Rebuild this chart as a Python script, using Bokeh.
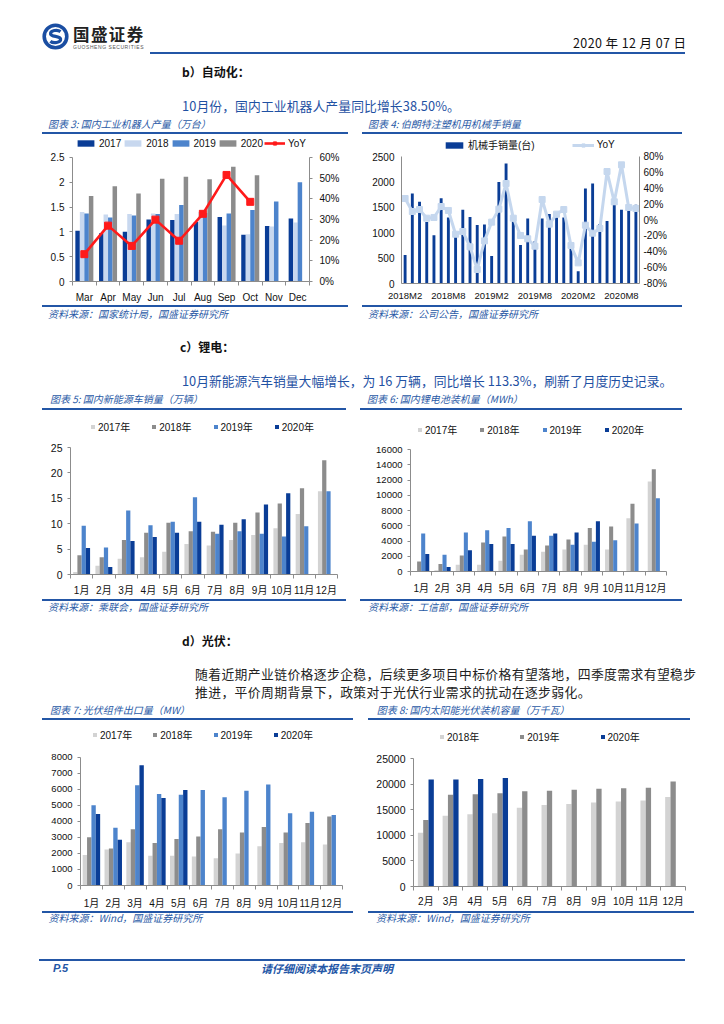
import numpy as np
from bokeh.plotting import figure
from bokeh.models import (Range1d, LinearAxis, FixedTicker, Legend, LegendItem,
                          ColumnDataSource, Div, Spacer, NumeralTickFormatter,
                          PrintfTickFormatter)
from bokeh.layouts import column, row
from bokeh.transform import dodge
from bokeh.embed import file_html
from bokeh.resources import INLINE

# ---------------- DATA ----------------
robot_months = ["Mar", "Apr", "May", "Jun", "Jul", "Aug", "Sep", "Oct", "Nov", "Dec"]
robot_2017 = [1.02, 0.97, 1.00, 1.25, 1.24, 1.20, 1.30, 0.94, 1.12, 1.27]
robot_2018 = [1.40, 1.35, 1.36, 1.37, 1.36, 1.40, 1.13, 0.95, 1.11, 1.19]
robot_2019 = [1.37, 1.29, 1.33, 1.36, 1.54, 1.38, 1.37, 1.44, 1.61, 2.00]
robot_2020 = [1.72, 1.92, 1.77, 2.07, 2.11, 2.06, 2.31, 2.14, None, None]
robot_yoy = [13.2, 27.0, 17.2, 29.9, 19.7, 32.7, 51.5, 38.5, None, None]

arm_months = ["2018M2", "2018M3", "2018M4", "2018M5", "2018M6", "2018M7", "2018M8",
              "2018M9", "2018M10", "2018M11", "2018M12", "2019M1", "2019M2", "2019M3",
              "2019M4", "2019M5", "2019M6", "2019M7", "2019M8", "2019M9", "2019M10",
              "2019M11", "2019M12", "2020M1", "2020M2", "2020M3", "2020M4", "2020M5",
              "2020M6", "2020M7", "2020M8", "2020M9", "2020M10"]
arm_ticks = ["2018M2", "2018M8", "2019M2", "2019M8", "2020M2", "2020M8"]
arm_sales = [560, 1770, 1610, 1210, 950, 1680, 1300, 920, 1450, 1310, 1150, 1160, 540,
             2000, 2360, 1220, 760, 1280, 830, 1280, 1370, 1300, 1300, 700, 240, 1870,
             1970, 1170, 1230, 1550, 1450, 1450, 1550]
arm_yoy = [27.1, 10.7, 13.2, 2.3, 3.2, 17.0, 12.0, -17.9, -14.5, -33.8, -62.4, -26.3,
           -2.7, 13.7, 46.0, 2.3, -19.5, -23.7, -33.0, 25.8, -5.3, 7.4, 13.2, -32.1,
           -54.0, -6.5, -16.6, -10.7, 61.1, 22.9, 69.5, 15.8, 14.5]

m12 = ["1月", "2月", "3月", "4月", "5月", "6月", "7月", "8月", "9月", "10月", "11月", "12月"]
nev_2017 = [0.5, 1.7, 3.1, 3.4, 4.5, 6.0, 5.7, 6.8, 7.8, 9.1, 11.9, 16.4]
nev_2018 = [3.8, 3.4, 6.8, 8.2, 10.2, 8.5, 8.4, 10.2, 12.2, 14.0, 17.0, 22.5]
nev_2019 = [9.6, 5.3, 12.6, 9.7, 10.4, 15.2, 8.0, 8.5, 8.0, 7.5, 9.5, 16.4]
nev_2020 = [5.2, 1.5, 6.6, 7.4, 8.2, 10.4, 9.8, 10.9, 13.8, 16.0, None, None]

bat_2017 = [0, 150, 900, 900, 1400, 2200, 2600, 2900, 3500, 2900, 7000, 11800]
bat_2018 = [1300, 1000, 2100, 3800, 4600, 2900, 3400, 4200, 5700, 5900, 8900, 13400]
bat_2019 = [5000, 2200, 5100, 5400, 5700, 6600, 4700, 3500, 3900, 4100, 6300, 9600]
bat_2020 = [2300, 600, 2800, 3600, 3600, 4700, 5000, 5100, 6600, None, None, None]

pv_2017 = [1900, 2250, 2700, 1850, 1850, 1800, 1700, 2000, 2450, 2650, 2700, 2550]
pv_2018 = [3000, 2300, 3500, 2650, 2900, 3050, 3500, 3300, 3650, 3300, 3900, 4300]
pv_2019 = [5000, 3600, 6250, 5700, 5650, 5950, 5500, 5900, 6300, 4500, 4600, 4400]
pv_2020 = [4450, 2850, 7500, 5450, 5950, None, None, None, None, None, None, None]

cap_months = ["2月", "3月", "4月", "5月", "6月", "7月", "8月", "9月", "10月", "11月", "12月"]
cap_2018 = [10500, 13800, 14100, 14300, 15400, 15900, 16100, 16400, 16600, 16800, 17500]
cap_2019 = [13000, 17900, 18000, 18200, 18600, 18700, 18900, 19100, 19200, 19300, 20500]
cap_2020 = [20900, 20900, 21000, 21200, None, None, None, None, None, None, None]

# ---------------- STYLE ----------------
NAVY = "#0a3d96"
LIGHTB = "#c8d8ef"
MIDB = "#4d84cc"
GRAY = "#8c8c8c"
LGRAY = "#d3d3d3"
RED = "#ff1a1a"
YOYB = "#c5d7ee"
AXC = "#8c8c8c"
TXTBLUE = "#1f51a3"
CAPBLUE = "#2a5aa6"
LINEBLUE = "#2356a6"
CJK = "'Noto Sans CJK SC'"
NUMF = "'Liberation Sans', 'Noto Sans CJK SC'"
LEG_H = 12
LEG_PAD = 3


def arr(v):
    return np.array(v, dtype=float)


def fig_with_legend_room(w, h, xr, y0, y1, bl, br, top_px, val_top_px, bottom_px):
    """Frame spans from top_px to bottom_px (pixels from fig top); the value y1 sits
    at val_top_px so the band above it holds the legend."""
    frame_h = bottom_px - top_px
    k = frame_h / (bottom_px - val_top_px)
    yr = Range1d(y0, y0 + (y1 - y0) * k)
    p = figure(width=w, height=h, x_range=xr, y_range=yr, output_backend="svg",
               toolbar_location=None, min_border_left=bl, min_border_right=br,
               min_border_top=top_px, min_border_bottom=h - bottom_px)
    p.outline_line_color = None
    p.xgrid.visible = False
    p.ygrid.visible = False
    p.background_fill_color = "white"
    p.border_fill_color = "white"
    return p, k


def style_axis(ax, size="10px", tick_out=3, standoff=5):
    ax.axis_line_color = AXC
    ax.major_tick_line_color = AXC
    ax.major_tick_out = tick_out
    ax.major_tick_in = 0
    ax.minor_tick_line_color = None
    ax.major_label_text_font = NUMF
    ax.major_label_text_font_size = size
    ax.major_label_text_color = "#111111"
    ax.major_label_standoff = standoff


def cat_xaxis(p, labels, size="10px", standoff=5):
    n = len(labels)
    centers = [i + 0.5 for i in range(n)]
    ax = p.xaxis[0]
    style_axis(ax, size, 0, standoff)
    ax.ticker = FixedTicker(ticks=centers, minor_ticks=list(range(n + 1)))
    ax.major_label_overrides = {c: l for c, l in zip(centers, labels)}
    ax.minor_tick_out = 4
    ax.minor_tick_in = 0
    ax.minor_tick_line_color = AXC


def grouped(p, src, keys, colors, width):
    n = len(keys)
    rs = []
    for i, (k, c) in enumerate(zip(keys, colors)):
        off = (i - (n - 1) / 2) * width
        rs.append(p.vbar(x=dodge("x", off), top=k, width=width, source=src,
                         fill_color=c, line_color=None))
    return rs


def add_legend(p, items, vx, gw, gh, spacing, standoff=3):
    lg = Legend(items=[LegendItem(label=l, renderers=r) for l, r in items],
                orientation="horizontal")
    lg.background_fill_alpha = 0
    lg.border_line_color = None
    lg.padding = 0
    lg.margin = 0
    lg.spacing = int(round(spacing))
    lg.glyph_width = gw
    lg.glyph_height = gh
    lg.label_standoff = standoff
    lg.label_height = LEG_H
    lg.label_width = 0
    lg.label_text_font = NUMF
    lg.label_text_font_size = "10px"
    lg.label_text_color = "#111111"
    fh = p.height - p.min_border_top - p.min_border_bottom
    lg.location = (vx, fh - LEG_H - LEG_PAD)
    p.add_layout(lg)
    return lg


# ---------------- HTML helpers ----------------
def txt(left, cy, s, size, color="#111", weight="normal", style="normal",
        family=CJK, extra="", lh=None):
    lh = lh or round(size * 1.3)
    top = cy - lh / 2
    return (f'<div style="position:absolute;left:{left}px;top:{top}px;font-family:{family};'
            f'font-size:{size}px;line-height:{lh}px;color:{color};font-weight:{weight};'
            f'font-style:{style};white-space:nowrap;{extra}">{s}</div>')


def hline(left, top, width, thick=2, color=LINEBLUE):
    return (f'<div style="position:absolute;left:{left}px;top:{top}px;width:{width}px;'
            f'height:{thick}px;background:{color};"></div>')


def absdiv(w, h, parts):
    inner = "".join(parts)
    return Div(text=(f'<div style="position:relative;display:block;width:{w}px;height:{h}px;'
                     f'overflow:hidden;margin:0;padding:0;">{inner}</div>'),
               width=w, height=h,
               styles={"font-size": "0px", "line-height": "0px", "overflow": "hidden",
                       "height": f"{h}px", "margin": "0px", "padding": "0px"})


def caption(w, h, text, tx, cy, lx, lw, ly):
    return absdiv(w, h, [txt(tx, cy, text, 10, CAPBLUE, style="italic", lh=12),
                         hline(lx, ly, lw)])


def source(w, h, text, tx, cy, lx, lw):
    return absdiv(w, h, [hline(lx, 0, lw),
                         txt(tx, cy, text, 10, CAPBLUE, style="italic", lh=11)])


# ---------------- HEADER ----------------
logo = ('<svg width="27" height="27" viewBox="0 0 27 27" '
        'style="position:absolute;left:34px;top:15px">'
        '<circle cx="13.5" cy="13.5" r="11.3" fill="none" stroke="#1a4ea2" stroke-width="3.6"/>'
        '<path d="M18.5 8.6 C 15.5 6.4, 8.2 7.2, 8.6 11.0 C 9.0 14.2, 18.2 12.6, 18.6 16.0 '
        'C 19.0 20.0, 11.0 20.6, 8.4 18.2" fill="none" stroke="#1a4ea2" stroke-width="3.2"/>'
        '</svg>')
header = absdiv(708, 109, [
    logo,
    txt(65, 26, "国盛证券", 16.5, "#222", weight="bold", lh=17,
        extra="letter-spacing:1.4px;"),
    txt(65, 38.5, "GUOSHENG SECURITIES", 5, "#555", family="'Liberation Sans'", lh=6,
        extra="letter-spacing:0.55px;"),
    hline(142, 44, 535),
    txt(565, 35, "2020 年 12 月 07 日", 12.5, "#111", extra="letter-spacing:0.4px;"),
    txt(174, 64, "b）自动化：", 12, "#111", weight="bold"),
    txt(174, 97, "10月份，国内工业机器人产量同比增长38.50%。", 12.8, TXTBLUE,
        extra="letter-spacing:0.1px;"),
])

# ---------------- CHART 3 ----------------
n3 = len(robot_months)
src3 = ColumnDataSource(dict(x=np.arange(n3) + 0.5, a=arr(robot_2017), b=arr(robot_2018),
                             c=arr(robot_2019), d=arr(robot_2020), yoy=arr(robot_yoy)))
p3, k3 = fig_with_legend_room(318, 171, Range1d(0, n3), 0, 2.5, 32, 49, 1, 23, 148)
b3 = grouped(p3, src3, ["a", "b", "c", "d"], [NAVY, LIGHTB, MIDB, GRAY], 0.19)
p3.extra_y_ranges = {"yoy": Range1d(0, 60 * k3)}
p3.add_layout(LinearAxis(y_range_name="yoy"), "right")
l3 = p3.line("x", "yoy", source=src3, y_range_name="yoy", line_color=RED, line_width=2.6)
s3 = p3.scatter("x", "yoy", source=src3, y_range_name="yoy", marker="square", size=7,
                color=RED)
style_axis(p3.yaxis[0], "10px", 3, 5)
p3.yaxis[0].ticker = FixedTicker(ticks=[0, 0.5, 1, 1.5, 2, 2.5])
p3.yaxis[0].formatter = NumeralTickFormatter(format="0.[0]")
p3.yaxis[0].bounds = (0, 2.5)
style_axis(p3.yaxis[1], "10px", 3, 7)
p3.yaxis[1].ticker = FixedTicker(ticks=[0, 10, 20, 30, 40, 50, 60])
p3.yaxis[1].formatter = PrintfTickFormatter(format="%d%%")
p3.yaxis[1].bounds = (0, 60)
cat_xaxis(p3, robot_months, "10px", 6)
add_legend(p3, [("2017", [b3[0]]), ("2018", [b3[1]]), ("2019", [b3[2]]),
                ("2020", [b3[3]]), ("YoY", [l3, s3])], 3, 21, 8, 1)

blk3 = column(caption(318, 17, "图表 3: 国内工业机器人产量（万台）", 8, 7, 2, 306, 15),
              p3,
              source(318, 15, "资料来源：国家统计局，国盛证券研究所", 8, 8, 2, 306),
              spacing=0)

# ---------------- CHART 4 ----------------
n4 = len(arm_months)
src4 = ColumnDataSource(dict(x=np.arange(n4), s=arr(arm_sales), yoy=arr(arm_yoy)))
p4, k4 = fig_with_legend_room(328, 171, Range1d(-0.5, n4 - 0.5), 0, 2500, 39, 51, 3, 22, 149)
b4 = p4.vbar(x="x", top="s", width=0.4, source=src4, fill_color=NAVY, line_color=None)
p4.extra_y_ranges = {"yoy": Range1d(-80, -80 + 160 * k4)}
p4.add_layout(LinearAxis(y_range_name="yoy"), "right")
l4 = p4.line("x", "yoy", source=src4, y_range_name="yoy", line_color=YOYB, line_width=3)
s4 = p4.scatter("x", "yoy", source=src4, y_range_name="yoy", marker="square", size=6,
                color=YOYB)
style_axis(p4.yaxis[0], "10px", 0, 7)
p4.yaxis[0].ticker = FixedTicker(ticks=[0, 500, 1000, 1500, 2000, 2500])
p4.yaxis[0].formatter = NumeralTickFormatter(format="0")
p4.yaxis[0].bounds = (0, 2500)
style_axis(p4.yaxis[1], "10px", 0, 4)
p4.yaxis[1].ticker = FixedTicker(ticks=[-80, -60, -40, -20, 0, 20, 40, 60, 80])
p4.yaxis[1].formatter = PrintfTickFormatter(format="%d%%")
p4.yaxis[1].bounds = (-80, 80)
ax4 = p4.xaxis[0]
style_axis(ax4, "9.5px", 0, 6)
tick_idx = [arm_months.index(t) for t in arm_ticks]
ax4.ticker = FixedTicker(ticks=tick_idx)
ax4.major_label_overrides = {i: t for i, t in zip(tick_idx, arm_ticks)}
add_legend(p4, [("机械手销量(台)", [b4]), ("YoY", [l4, s4])], 42, 22, 8, 37)

blk4 = column(caption(328, 17, "图表 4: 伯朗特注塑机用机械手销量", 6, 7, 0, 320, 15),
              p4,
              source(328, 15, "资料来源：公司公告，国盛证券研究所", 6, 8, 0, 320),
              spacing=0)

# ---------------- SECTION C ----------------
cdiv = absdiv(708, 72, [
    txt(172, 26.7, "c）锂电：", 12, "#111", weight="bold"),
    txt(174, 60.7, "10月新能源汽车销量大幅增长，为 16 万辆，同比增长 113.3%，刷新了月度历史记录。",
        12.8, TXTBLUE),
])

# ---------------- CHART 5 ----------------
src5 = ColumnDataSource(dict(x=np.arange(12) + 0.5, a=arr(nev_2017), b=arr(nev_2018),
                             c=arr(nev_2019), d=arr(nev_2020)))
p5, k5 = fig_with_legend_room(318, 189, Range1d(0, 12), 0, 25, 30, 21, 9, 37, 164)
b5 = grouped(p5, src5, ["a", "b", "c", "d"], [LGRAY, GRAY, MIDB, NAVY], 0.19)
style_axis(p5.yaxis[0], "10.5px", 3, 5)
p5.yaxis[0].ticker = FixedTicker(ticks=[0, 5, 10, 15, 20, 25])
p5.yaxis[0].bounds = (0, 25)
cat_xaxis(p5, m12, "10px", 6)
add_legend(p5, [("2017年", [b5[0]]), ("2018年", [b5[1]]), ("2019年", [b5[2]]),
                ("2020年", [b5[3]])], 20, 5, 5, 21)
blk5 = column(caption(318, 18, "图表 5: 国内新能源车销量（万辆）", 10, 7, 2, 304, 16),
              p5,
              source(318, 16, "资料来源：乘联会，国盛证券研究所", 8, 7, 2, 304),
              spacing=0)

# ---------------- CHART 6 ----------------
src6 = ColumnDataSource(dict(x=np.arange(12) + 0.5, a=arr(bat_2017), b=arr(bat_2018),
                             c=arr(bat_2019), d=arr(bat_2020)))
p6, k6 = fig_with_legend_room(330, 189, Range1d(0, 12), 0, 16000, 50, 24, 12, 39, 161)
b6 = grouped(p6, src6, ["a", "b", "c", "d"], [LGRAY, GRAY, MIDB, NAVY], 0.19)
style_axis(p6.yaxis[0], "9.5px", 3, 5)
p6.yaxis[0].ticker = FixedTicker(ticks=list(range(0, 16001, 2000)))
p6.yaxis[0].formatter = NumeralTickFormatter(format="0")
p6.yaxis[0].bounds = (0, 16000)
cat_xaxis(p6, m12, "10px", 7)
add_legend(p6, [("2017年", [b6[0]]), ("2018年", [b6[1]]), ("2019年", [b6[2]]),
                ("2020年", [b6[3]])], 7, 5, 5, 22)
blk6 = column(caption(330, 18, "图表 6: 国内锂电池装机量（MWh）", 7, 7, 0, 322, 16),
              p6,
              source(330, 16, "资料来源：工信部，国盛证券研究所", 8, 7, 0, 322),
              spacing=0)

# ---------------- SECTION D ----------------
ddiv = absdiv(708, 88, [
    txt(174, 25.7, "d）光伏：", 12, "#111", weight="bold"),
    txt(187, 58, "随着近期产业链价格逐步企稳，后续更多项目中标价格有望落地，四季度需求有望稳步",
        12.8, "#222", extra="letter-spacing:0.4px;"),
    txt(187, 76, "推进，平价周期背景下，政策对于光伏行业需求的扰动在逐步弱化。",
        12.8, "#222", extra="letter-spacing:0.4px;"),
])

# ---------------- CHART 7 ----------------
src7 = ColumnDataSource(dict(x=np.arange(12) + 0.5, a=arr(pv_2017), b=arr(pv_2018),
                             c=arr(pv_2019), d=arr(pv_2020)))
p7, k7 = fig_with_legend_room(318, 191, Range1d(0, 12), 0, 8000, 40, 16, 9, 37, 167)
b7 = grouped(p7, src7, ["a", "b", "c", "d"], [LGRAY, GRAY, MIDB, NAVY], 0.2)
style_axis(p7.yaxis[0], "9.5px", 3, 5)
p7.yaxis[0].ticker = FixedTicker(ticks=list(range(0, 8001, 1000)))
p7.yaxis[0].formatter = NumeralTickFormatter(format="0")
p7.yaxis[0].bounds = (0, 8000)
cat_xaxis(p7, m12, "10px", 8)
add_legend(p7, [("2017年", [b7[0]]), ("2018年", [b7[1]]), ("2019年", [b7[2]]),
                ("2020年", [b7[3]])], 12, 5, 5, 20)
blk7 = column(caption(318, 17, "图表 7: 光伏组件出口量（MW）", 10, 7, 2, 311, 15),
              p7,
              source(318, 14, "资料来源：Wind，国盛证券研究所", 8.5, 6, 2, 311),
              spacing=0)

# ---------------- CHART 8 ----------------
n8 = len(cap_months)
src8 = ColumnDataSource(dict(x=np.arange(n8) + 0.5, a=arr(cap_2018), b=arr(cap_2019),
                             c=arr(cap_2020)))
p8, k8 = fig_with_legend_room(334, 191, Range1d(0, n8), 0, 25000, 51, 11, 9, 38, 166)
b8 = grouped(p8, src8, ["a", "b", "c"], [LGRAY, GRAY, NAVY], 0.215)
style_axis(p8.yaxis[0], "10.5px", 3, 5)
p8.yaxis[0].ticker = FixedTicker(ticks=list(range(0, 25001, 5000)))
p8.yaxis[0].formatter = NumeralTickFormatter(format="0")
p8.yaxis[0].bounds = (0, 25000)
cat_xaxis(p8, cap_months, "10px", 5)
add_legend(p8, [("2018年", [b8[0]]), ("2019年", [b8[1]]), ("2020年", [b8[2]])],
           26, 5, 5, 40)
blk8 = column(caption(334, 17, "图表 8: 国内太阳能光伏装机容量（万千瓦）", 14.7, 7, 6, 322, 15),
              p8,
              source(334, 14, "资料来源：Wind，国盛证券研究所", 14, 6, 6, 326),
              spacing=0)

# ---------------- FOOTER ----------------
footer = absdiv(708, 75, [
    hline(31, 34, 646, 2),
    txt(45, 43, "P.5", 11, LINEBLUE, weight="bold", style="italic", family="'Liberation Sans'"),
    txt(253, 43, "请仔细阅读本报告末页声明", 11, LINEBLUE, weight="bold", style="italic"),
])

row1 = row(Spacer(width=32, height=10), blk3, Spacer(width=4, height=10), blk4, spacing=0)
row2 = row(Spacer(width=32, height=10), blk5, Spacer(width=2, height=10), blk6, spacing=0)
row3 = row(Spacer(width=32, height=10), blk7, Spacer(width=4, height=10), blk8, spacing=0)

page = column(Spacer(width=10, height=8), header, row1, cdiv, row2, ddiv, row3, footer,
              spacing=0)
root = row(Spacer(width=8, height=10), page, spacing=0)

open("out.html", "w").write(file_html(root, INLINE))
